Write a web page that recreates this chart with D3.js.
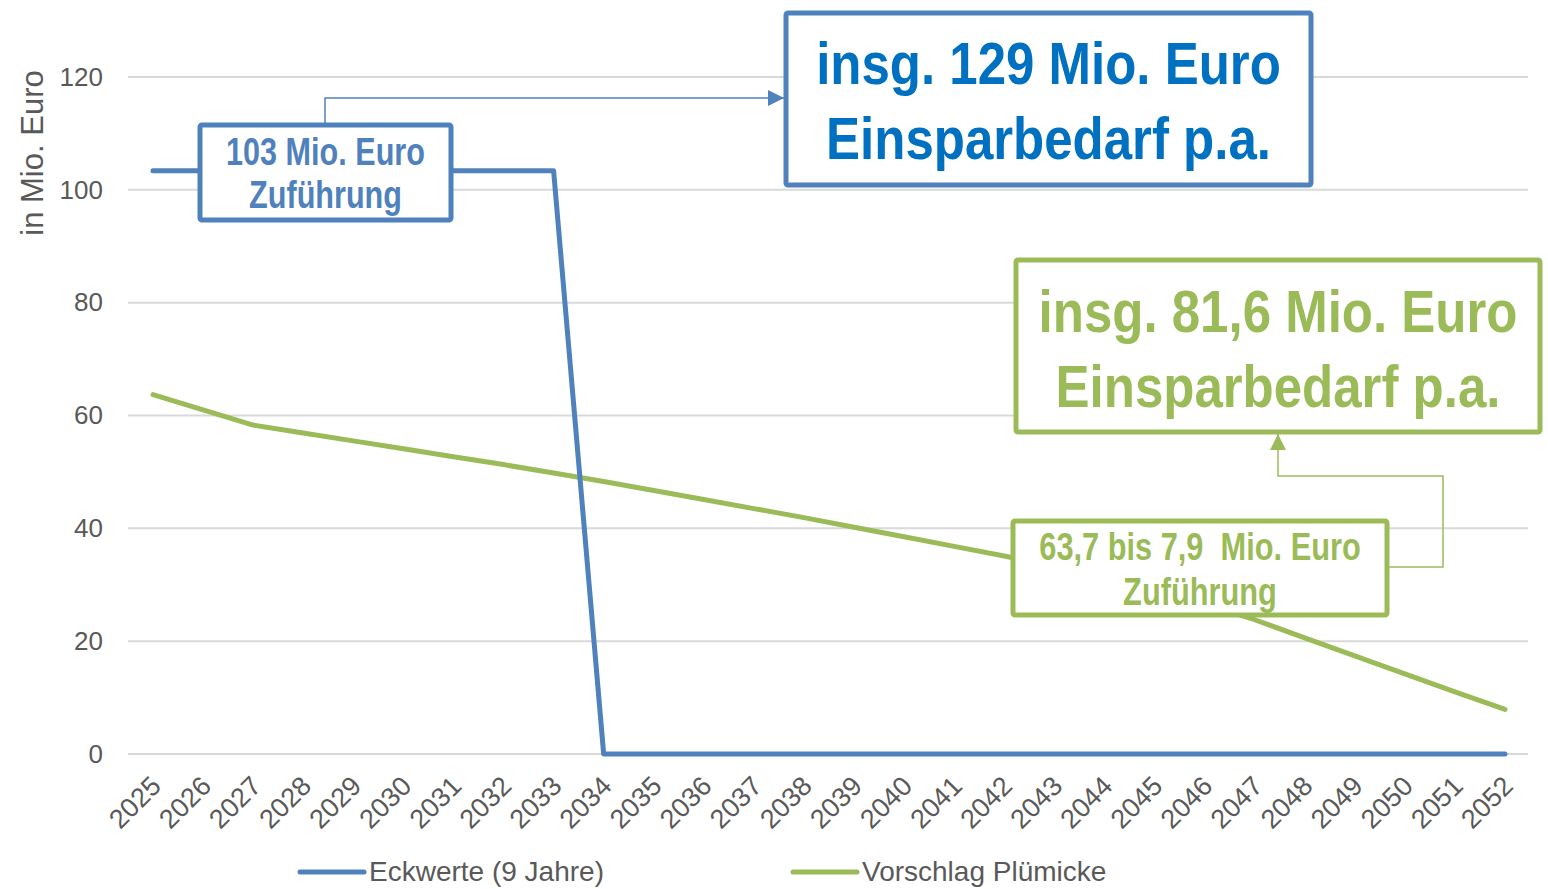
<!DOCTYPE html>
<html>
<head>
<meta charset="utf-8">
<script src="https://cdn.jsdelivr.net/npm/d3@7"></script>
<style>
  body { margin: 0; background: #fff; }
  text { font-family: "Liberation Sans", Arial, sans-serif; }
  .narrow { font-weight: bold; }
</style>
</head>
<body>
<svg width="1548" height="889"></svg>
<script>
var years = d3.range(2025, 2053)
// Eckwerte (9 Jahre)
var eckwerte = [103.4, 103.4, 103.4, 103.4, 103.4, 103.4, 103.4, 103.4, 103.4,
  0, 0, 0, 0, 0, 0, 0, 0, 0, 0, 0, 0, 0, 0, 0, 0, 0, 0, 0]
// Vorschlag Plümicke
var pluemicke = [63.7, 61.0, 58.3, 56.9, 55.5, 54.1, 52.7, 51.3, 49.8, 48.3,
  46.7, 45.1, 43.5, 41.9, 40.2, 38.5, 36.8, 35.1, 33.2, 31.3,
  29.2, 26.6, 23.8, 20.6, 17.4, 14.2, 11.0, 7.9]
var yTicks = [0, 20, 40, 60, 80, 100, 120]
var seriesNames = ["Eckwerte (9 Jahre)", "Vorschlag Plümicke"]

var blue = "#4f81bd", green = "#9bbb59", darkBlue = "#0070c0", grey = "#595959"

var svg = d3.select("svg")

var x = d3.scalePoint().domain(years).range([153, 1505])
var y = d3.scaleLinear().domain([0, 120]).range([754, 77])

// gridlines
svg.append("g").selectAll("line")
  .data(yTicks)
  .enter().append("line")
  .attr("x1", 128).attr("x2", 1528)
  .attr("y1", function(d) { return y(d) })
  .attr("y2", function(d) { return y(d) })
  .attr("stroke", "#d9d9d9")
  .attr("stroke-width", 2)

// y axis labels
var yAxis = d3.axisLeft(y).tickValues(yTicks).tickSize(0).tickPadding(0)
var yg = svg.append("g").attr("transform", "translate(103,0)").call(yAxis)
yg.select(".domain").remove()
yg.selectAll("text")
  .attr("fill", grey)
  .attr("font-size", 26)
  .attr("font-family", "Liberation Sans, Arial, sans-serif")

svg.append("text")
  .attr("transform", "translate(43,153) rotate(-90)")
  .attr("text-anchor", "middle")
  .attr("fill", grey)
  .attr("font-size", 31)
  .text("in Mio. Euro")

// x axis labels
var xAxis = d3.axisBottom(x).tickSize(0).tickPadding(0).tickFormat(d3.format("d"))
var xg = svg.append("g").call(xAxis)
xg.select(".domain").remove()
xg.selectAll(".tick").attr("transform", function(d) { return "translate(" + (x(d) + 3) + ",781)" })
xg.selectAll("text")
  .attr("fill", grey)
  .attr("font-size", 27)
  .attr("font-family", "Liberation Sans, Arial, sans-serif")
  .attr("text-anchor", "end")
  .attr("y", 0).attr("dy", "0.35em")
  .attr("transform", "rotate(-45)")

// lines
var line = d3.line()
  .x(function(d, i) { return x(years[i]) })
  .y(function(d) { return y(d) })

svg.append("path")
  .datum(pluemicke)
  .attr("d", line)
  .attr("fill", "none")
  .attr("stroke", green)
  .attr("stroke-width", 5)
  .attr("stroke-linecap", "round")
  .attr("stroke-linejoin", "round")

svg.append("path")
  .datum(eckwerte)
  .attr("d", line)
  .attr("fill", "none")
  .attr("stroke", blue)
  .attr("stroke-width", 5)
  .attr("stroke-linecap", "round")
  .attr("stroke-linejoin", "round")

// legend
var legend = svg.append("g")
var legendX = [300, 793]
var legendColors = [blue, green]
seriesNames.forEach(function(name, i) {
  legend.append("line")
    .attr("x1", legendX[i]).attr("x2", legendX[i] + 64)
    .attr("y1", 872).attr("y2", 872)
    .attr("stroke", legendColors[i])
    .attr("stroke-width", 5)
    .attr("stroke-linecap", "round")
  legend.append("text")
    .attr("x", legendX[i] + 69).attr("y", 881)
    .attr("fill", grey)
    .attr("font-size", 28)
    .text(name)
})

// arrow markers
var defs = svg.append("defs")
function marker(id, color) {
  defs.append("marker")
    .attr("id", id)
    .attr("viewBox", "0 0 10 10")
    .attr("refX", 10).attr("refY", 5)
    .attr("markerWidth", 18).attr("markerHeight", 16)
    .attr("markerUnits", "userSpaceOnUse")
    .attr("orient", "auto")
    .append("path")
    .attr("d", "M0,0 L10,5 L0,10 Z")
    .attr("fill", color)
}
marker("arrBlue", blue)
marker("arrGreen", green)

// connectors
svg.append("path")
  .attr("d", "M325,124 V98 H784")
  .attr("fill", "none")
  .attr("stroke", blue)
  .attr("stroke-width", 1.5)
  .attr("marker-end", "url(#arrBlue)")

svg.append("path")
  .attr("d", "M1387,567 H1443 V476 H1278 V434")
  .attr("fill", "none")
  .attr("stroke", green)
  .attr("stroke-width", 1.5)
  .attr("marker-end", "url(#arrGreen)")

// annotation boxes (narrow bold text emulated with a horizontal squeeze)
function box(x0, y0, w, h, color, lines, size, sx, textColor, baselines) {
  var g = svg.append("g")
  g.append("rect")
    .attr("x", x0).attr("y", y0)
    .attr("width", w).attr("height", h)
    .attr("rx", 2)
    .attr("fill", "#fff")
    .attr("stroke", color)
    .attr("stroke-width", 5)
  lines.forEach(function(t, i) {
    g.append("text")
      .attr("class", "narrow")
      .attr("transform", "translate(" + (x0 + w / 2) + "," + baselines[i] + ") scale(" + sx + ",1)")
      .attr("text-anchor", "middle")
      .attr("fill", textColor)
      .attr("font-size", size)
      .style("white-space", "pre")
      .text(t)
  })
}

box(200, 125, 251, 95, blue, ["103 Mio. Euro", "Zuführung"], 38, 0.805, blue, [165, 208])
box(786, 13, 525, 172, blue, ["insg. 129 Mio. Euro", "Einsparbedarf p.a."], 60, 0.85, darkBlue, [84, 159])
box(1016, 260, 524, 172, green, ["insg. 81,6 Mio. Euro", "Einsparbedarf p.a."], 60, 0.85, green, [332, 407])
box(1013, 521, 374, 94, green, ["63,7 bis 7,9  Mio. Euro", "Zuführung"], 38, 0.81, green, [560, 605])
</script>
</body>
</html>
